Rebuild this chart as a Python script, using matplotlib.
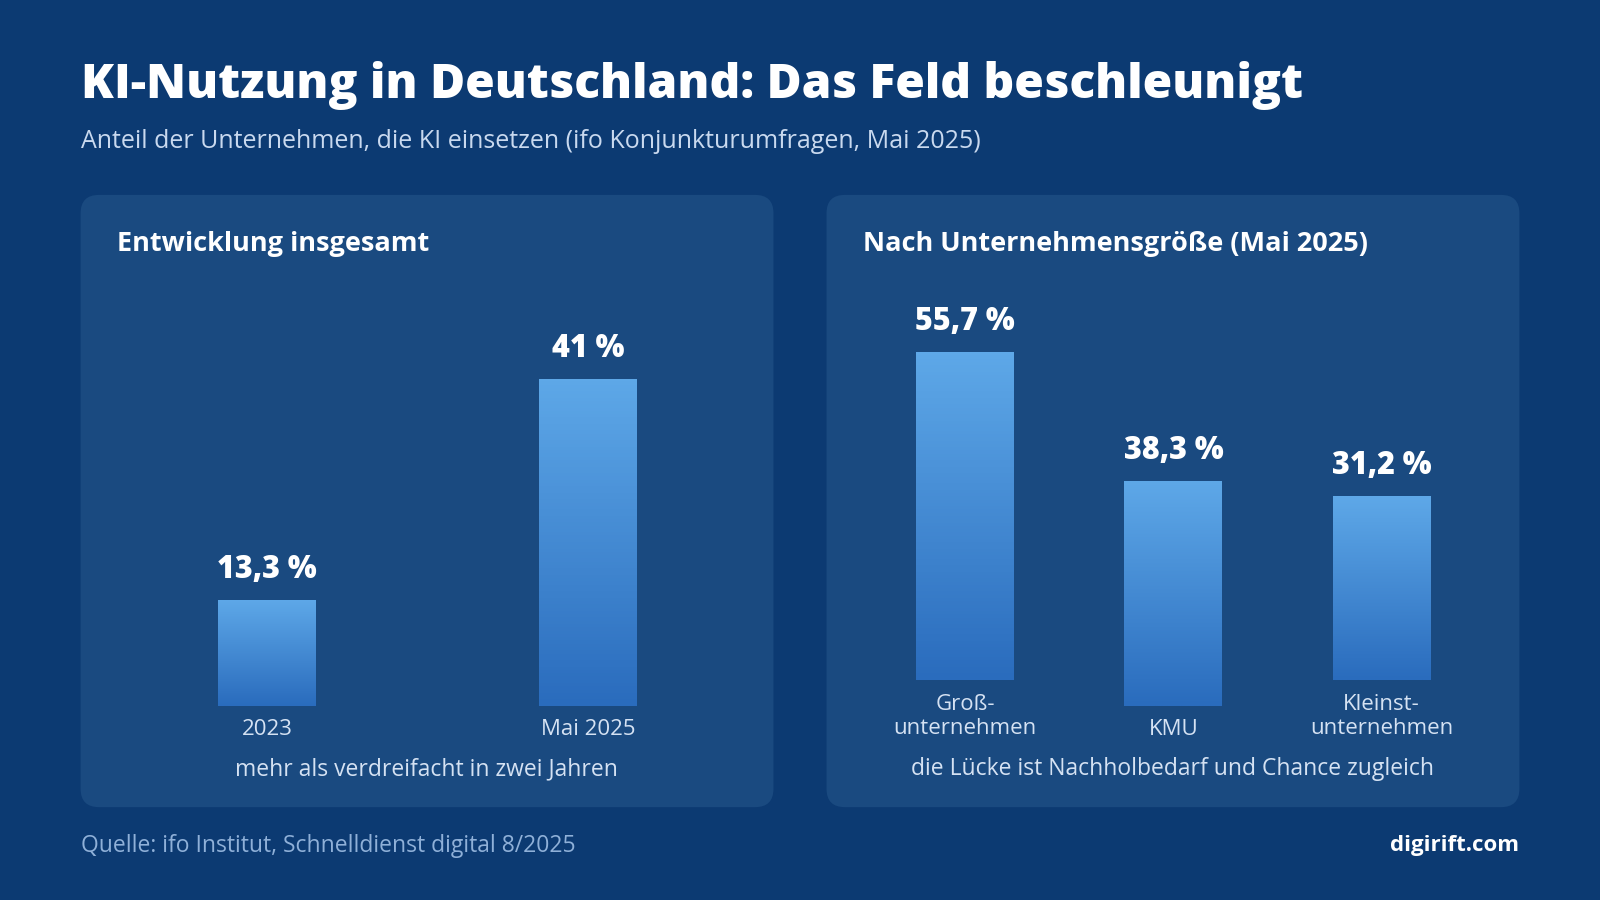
import numpy as np
import matplotlib.pyplot as plt
from matplotlib.patches import FancyBboxPatch
from matplotlib.colors import LinearSegmentedColormap

plt.rcParams['font.family'] = ['Open Sans', 'DejaVu Sans']

# data
left_cats = ["2023", "Mai 2025"]
left_vals = [13.3, 41.0]
left_labels = ["13,3 %", "41 %"]
right_cats = ["Groß-\nunternehmen", "KMU", "Kleinst-\nunternehmen"]
right_vals = [55.7, 38.3, 31.2]
right_labels = ["55,7 %", "38,3 %", "31,2 %"]

BG = '#0c3a72'
PANEL = '#1a4a80'
W, H = 1568, 882
grad = LinearSegmentedColormap.from_list('g', ['#2a6cbd', '#5ea8e8'])

fig = plt.figure(figsize=(16, 9), dpi=100, facecolor=BG)
bg = fig.add_axes([0, 0, 1, 1])
bg.set_xlim(0, W); bg.set_ylim(H, 0); bg.axis('off')

for x0 in (79, 810):
    bg.add_patch(FancyBboxPatch((x0, 191), 679, 600, boxstyle="round,pad=0,rounding_size=18",
                                fc=PANEL, ec='none'))

bg.text(79, 84, "KI-Nutzung in Deutschland: Das Feld beschleunigt", color='white',
        fontsize=34.5, fontweight='heavy', va='center')
bg.text(79, 139, "Anteil der Unternehmen, die KI einsetzen (ifo Konjunkturumfragen, Mai 2025)",
        color='#c9d9ef', fontsize=18, va='center')
bg.text(115, 239, "Entwicklung insgesamt", color='white', fontsize=19.5, fontweight='bold', va='center')
bg.text(846, 239, "Nach Unternehmensgröße (Mai 2025)", color='white', fontsize=19.5,
        fontweight='bold', va='center')
bg.text(418, 754, "mehr als verdreifacht in zwei Jahren", color='#d5e2f3', fontsize=16.5,
        ha='center', va='center')
bg.text(1149, 754, "die Lücke ist Nachholbedarf und Chance zugleich", color='#d5e2f3',
        fontsize=16.5, ha='center', va='center')
bg.text(79, 829, "Quelle: ifo Institut, Schnelldienst digital 8/2025", color='#8fb0d8',
        fontsize=16.5, va='center')
bg.text(1489, 829, "digirift.com", color='white', fontsize=16, fontweight='bold',
        ha='right', va='center')


def panel(x0, width, ymax, cats, vals, labels, bottoms, label_y):
    ax = fig.add_axes([x0 / W, 1 - 692 / H, width / W, 392 / H])
    ax.set_facecolor('none')
    ax.axis('off')
    n = len(cats)
    bw = 96 / (width / n)
    bars = ax.bar(range(n), vals, width=bw, bottom=bottoms, color='none')
    for i, b in enumerate(bars):
        x, y, w, h = b.get_x(), b.get_y(), b.get_width(), b.get_height()
        im = ax.imshow(np.linspace(0, 1, 100).reshape(-1, 1), cmap=grad, aspect='auto',
                       extent=(x, x + w, y, y + h), origin='lower')
        im.set_clip_path(b)
        ax.text(i, y + h + ymax * 0.075, labels[i], color='white', fontsize=22,
                fontweight='heavy', ha='center', va='center')
        ax.text(i, -label_y[i], cats[i], color='#d5e2f3', fontsize=16, ha='center',
                va='center', linespacing=1.2, clip_on=False)
    ax.set_ylim(0, ymax)
    ax.set_xlim(-0.5, n - 0.5)


panel(104, 630, 392 / 7.83, left_cats, left_vals, left_labels, [0, 0], [23 / 7.83] * 2)
sc = 5.77
panel(844, 612, 392 / sc, right_cats, right_vals, right_labels,
      [26 / sc, 0, 26 / sc], [10 / sc, 23 / sc, 10 / sc])

fig.savefig('out.png', dpi=100, facecolor=BG)
